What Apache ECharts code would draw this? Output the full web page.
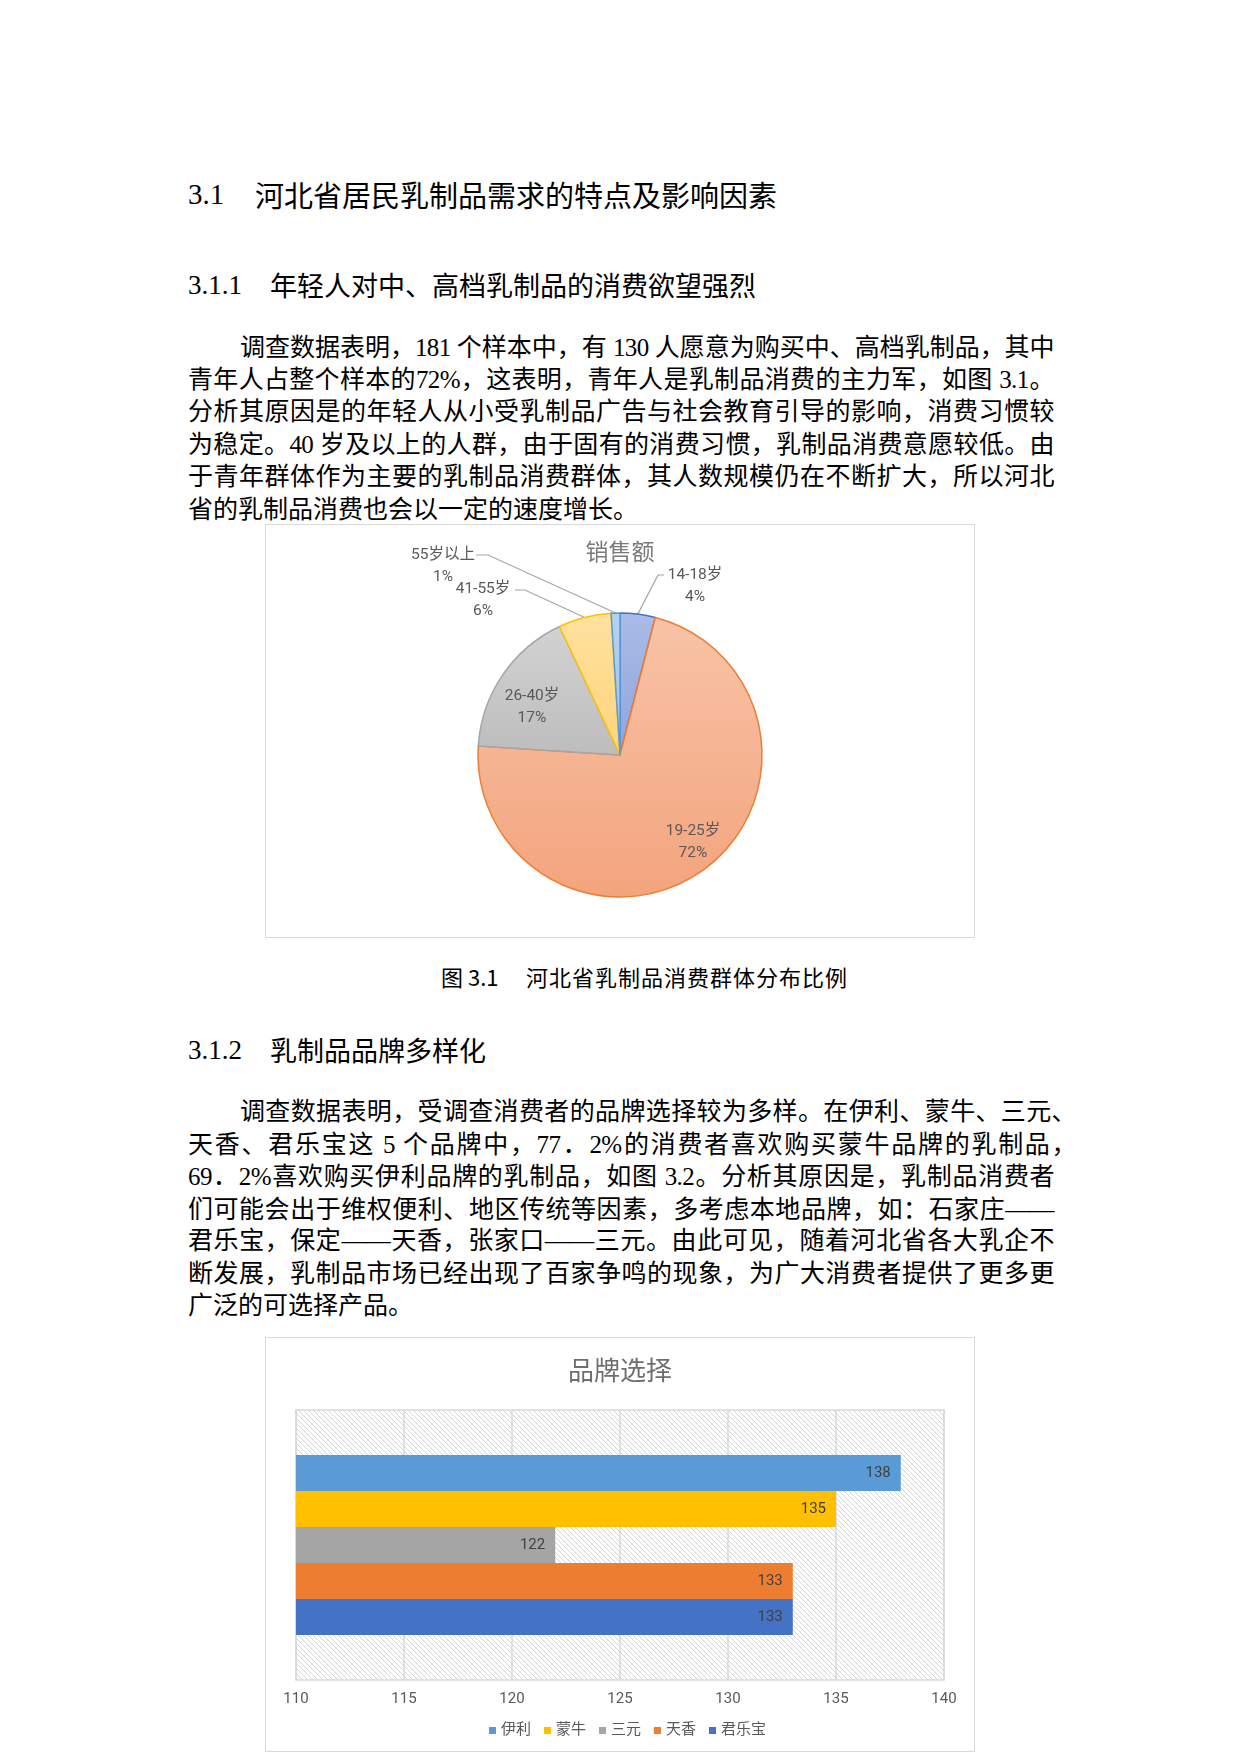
<!DOCTYPE html>
<html>
<head>
<meta charset="utf-8">
<script src="https://cdn.jsdelivr.net/npm/echarts@6/dist/echarts.min.js"></script>
<style>
html,body{margin:0;padding:0;background:#fff;}
body{width:1240px;height:1754px;position:relative;overflow:hidden;}
.h{position:absolute;white-space:pre;color:#000;line-height:40px;height:40px;}
.num{font-family:'Liberation Serif',serif;}
.cjkh{font-family:'Noto Sans CJK SC',sans-serif;}
.ln{position:absolute;font-family:'Liberation Serif','Noto Sans CJK SC',serif;font-size:25px;line-height:32px;height:32px;text-align:justify;text-align-last:justify;color:#000;letter-spacing:-0.6px;}
.free{text-align-last:left;letter-spacing:0;}
.box{position:absolute;border:1.5px solid #d9d9d9;box-sizing:border-box;}
.chart{position:absolute;}
</style>
</head>
<body>
<!-- headings -->
<div class="h num" style="left:188px;top:174px;font-size:29px;">3.1</div>
<div class="h cjkh" style="left:255px;top:174px;font-size:29px;">河北省居民乳制品需求的特点及影响因素</div>
<div class="h num" style="left:188px;top:265px;font-size:27px;">3.1.1</div>
<div class="h cjkh" style="left:270px;top:265px;font-size:27px;">年轻人对中、高档乳制品的消费欲望强烈</div>

<div class="ln" style="left:240px;width:814px;top:332px;">调查数据表明，181 个样本中，有 130 人愿意为购买中、高档乳制品，其中</div>
<div class="ln" style="left:188px;width:866px;top:364px;">青年人占整个样本的72%，这表明，青年人是乳制品消费的主力军，如图 3.1。</div>
<div class="ln" style="left:188px;width:866px;top:396px;">分析其原因是的年轻人从小受乳制品广告与社会教育引导的影响，消费习惯较</div>
<div class="ln" style="left:188px;width:866px;top:429px;">为稳定。40 岁及以上的人群，由于固有的消费习惯，乳制品消费意愿较低。由</div>
<div class="ln" style="left:188px;width:866px;top:461px;">于青年群体作为主要的乳制品消费群体，其人数规模仍在不断扩大，所以河北</div>
<div class="ln free" style="left:188px;width:866px;top:494px;">省的乳制品消费也会以一定的速度增长。</div>

<div class="box" style="left:265px;top:524px;width:710px;height:414px;"></div>
<div id="pie" class="chart" style="left:265px;top:524px;width:710px;height:414px;"></div>

<div class="h cjkh" style="left:441px;top:956px;font-size:22px;">图 3.1</div>
<div class="h cjkh" style="left:526px;top:956px;font-size:22px;letter-spacing:1px;">河北省乳制品消费群体分布比例</div>

<div class="h num" style="left:188px;top:1030px;font-size:27px;">3.1.2</div>
<div class="h cjkh" style="left:270px;top:1030px;font-size:27px;">乳制品品牌多样化</div>

<div class="ln" style="left:240px;width:836px;top:1096px;">调查数据表明，受调查消费者的品牌选择较为多样。在伊利、蒙牛、三元、</div>
<div class="ln" style="left:188px;width:888px;top:1129px;">天香、君乐宝这 5 个品牌中，77．2%的消费者喜欢购买蒙牛品牌的乳制品，</div>
<div class="ln" style="left:188px;width:866px;top:1161px;">69．2%喜欢购买伊利品牌的乳制品，如图 3.2。分析其原因是，乳制品消费者</div>
<div class="ln" style="left:188px;width:866px;top:1194px;">们可能会出于维权便利、地区传统等因素，多考虑本地品牌，如：石家庄——</div>
<div class="ln" style="left:188px;width:866px;top:1225px;">君乐宝，保定——天香，张家口——三元。由此可见，随着河北省各大乳企不</div>
<div class="ln" style="left:188px;width:866px;top:1258px;">断发展，乳制品市场已经出现了百家争鸣的现象，为广大消费者提供了更多更</div>
<div class="ln free" style="left:188px;width:866px;top:1290px;">广泛的可选择产品。</div>

<div class="box" style="left:265px;top:1337px;width:710px;height:415px;"></div>
<div id="bar" class="chart" style="left:265px;top:1337px;width:710px;height:415px;"></div>

<script>
// ---------- data ----------
const pieTitle = '销售额';
const ageGroups = ['14-18岁', '19-25岁', '26-40岁', '41-55岁', '55岁以上'];
const ageShares = [4, 72, 17, 6, 1];

const barTitle = '品牌选择';
const brands = ['伊利', '蒙牛', '三元', '天香', '君乐宝'];
const brandCounts = [138, 135, 122, 133, 133];
const valueAxisMin = 110;
const valueAxisMax = 140;
const valueAxisStep = 5;

// ---------- styles ----------
const chartFont = "Roboto, 'Noto Sans CJK SC', sans-serif";
const pieFill = [
  ['#aabce6', '#8ea5dc', '#4472c4'],
  ['#f8c3a7', '#f3a47d', '#ed7d31'],
  ['#d2d2d2', '#bdbdbd', '#a5a5a5'],
  ['#ffe19f', '#ffd47a', '#ffc000'],
  ['#b6d2ef', '#9dc3e6', '#5b9bd5']
];
const insideIdx = [1, 2];
// label placement (centre of label block) and leader bend points, in chart pixels
const pieLabelPlace = [
  {x: 430, y: 62, bend: [[393, 51], [399, 51]]},
  {x: 428, y: 318},
  {x: 267, y: 183},
  {x: 218, y: 76, bend: [[260, 66], [250, 66]]},
  {x: 178, y: 42, bend: [[223, 31], [211, 31]]}
];
const pieCenter = [355, 231];
const pieRadius = 142;
const barColors = ['#5b9bd5', '#ffc000', '#a5a5a5', '#ed7d31', '#4472c4'];

// ---------- pie ----------
const total = ageShares.reduce((a, b) => a + b, 0);
const midAngles = [];
(function () {
  let acc = 0;
  ageShares.forEach(v => { midAngles.push((acc + v / 2) / total * Math.PI * 2); acc += v; });
})();

const pie = echarts.init(document.getElementById('pie'), null, {renderer: 'canvas'});
pie.setOption({
  animation: false,
  title: {
    text: pieTitle, left: 'center', top: 19, padding: 0,
    textStyle: {fontSize: 23, fontWeight: 'normal', color: '#7a7a7a', fontFamily: chartFont}
  },
  series: [{
    type: 'pie',
    center: pieCenter,
    radius: pieRadius,
    startAngle: 90,
    clockwise: true,
    silent: true,
    avoidLabelOverlap: false,
    label: {
      fontSize: 15.5, lineHeight: 22, color: '#595959', fontFamily: chartFont,
      align: 'center',
      formatter: p => p.name + '\n' + Math.round(p.percent) + '%'
    },
    labelLine: {length: 20, length2: 10, lineStyle: {color: '#a6a6a6', width: 1.2}},
    labelLayout: function (params) {
      const i = params.dataIndex;
      const pl = pieLabelPlace[i];
      const out = {x: pl.x, y: pl.y, align: 'center', verticalAlign: 'middle'};
      if (pl.bend) {
        const a = midAngles[i];
        const edge = [pieCenter[0] + pieRadius * Math.sin(a), pieCenter[1] - pieRadius * Math.cos(a)];
        out.labelLinePoints = [edge, pl.bend[0], pl.bend[1]];
      }
      return out;
    },
    data: ageGroups.map((name, i) => ({
      name: name,
      value: ageShares[i],
      itemStyle: {
        color: new echarts.graphic.LinearGradient(0, 0, 0, 1, [
          {offset: 0, color: pieFill[i][0]}, {offset: 1, color: pieFill[i][1]}
        ]),
        borderColor: pieFill[i][2],
        borderWidth: 1.5
      },
      label: {position: insideIdx.indexOf(i) >= 0 ? 'inside' : 'outside'},
      labelLine: {show: insideIdx.indexOf(i) < 0}
    }))
  }]
});

// ---------- bar ----------
const pc = document.createElement('canvas');
pc.width = 5; pc.height = 5;
const g = pc.getContext('2d');
g.fillStyle = '#ffffff'; g.fillRect(0, 0, 5, 5);
g.strokeStyle = '#d4d4d4'; g.lineWidth = 1;
g.beginPath();
g.moveTo(0, 0); g.lineTo(5, 5);
g.moveTo(-1, 4); g.lineTo(1, 6);
g.moveTo(4, -1); g.lineTo(6, 1);
g.stroke();

const bar = echarts.init(document.getElementById('bar'), null, {renderer: 'canvas'});
bar.setOption({
  animation: false,
  textStyle: {fontFamily: chartFont},
  title: {
    text: barTitle, left: 'center', top: 23, padding: 0,
    textStyle: {fontSize: 26, fontWeight: 'normal', color: '#6e6e6e', fontFamily: chartFont}
  },
  legend: {
    data: brands, left: 224, top: 386, padding: 0,
    icon: 'rect', itemWidth: 7, itemHeight: 7, itemGap: 13,
    textStyle: {fontSize: 15, color: '#595959', fontFamily: chartFont}
  },
  grid: {
    left: 31, top: 73, width: 648, height: 270,
    show: true,
    backgroundColor: {image: pc, repeat: 'repeat'},
    borderColor: '#d9d9d9', borderWidth: 1.5
  },
  xAxis: {
    type: 'value', min: valueAxisMin, max: valueAxisMax, interval: valueAxisStep,
    axisLine: {show: false}, axisTick: {show: false},
    axisLabel: {color: '#595959', fontSize: 15, margin: 12, fontFamily: chartFont},
    splitLine: {lineStyle: {color: '#d9d9d9', width: 1.5}}
  },
  yAxis: {type: 'category', data: [''], show: false},
  series: brands.map((b, i) => ({
    name: b, type: 'bar',
    data: [brandCounts[i]],
    barGap: '0%', barCategoryGap: '33.3%',
    silent: true,
    itemStyle: {color: barColors[i]},
    label: {show: true, position: 'insideRight', distance: 10, color: '#404040', fontSize: 15, fontFamily: chartFont}
  }))
});
</script>
</body>
</html>
